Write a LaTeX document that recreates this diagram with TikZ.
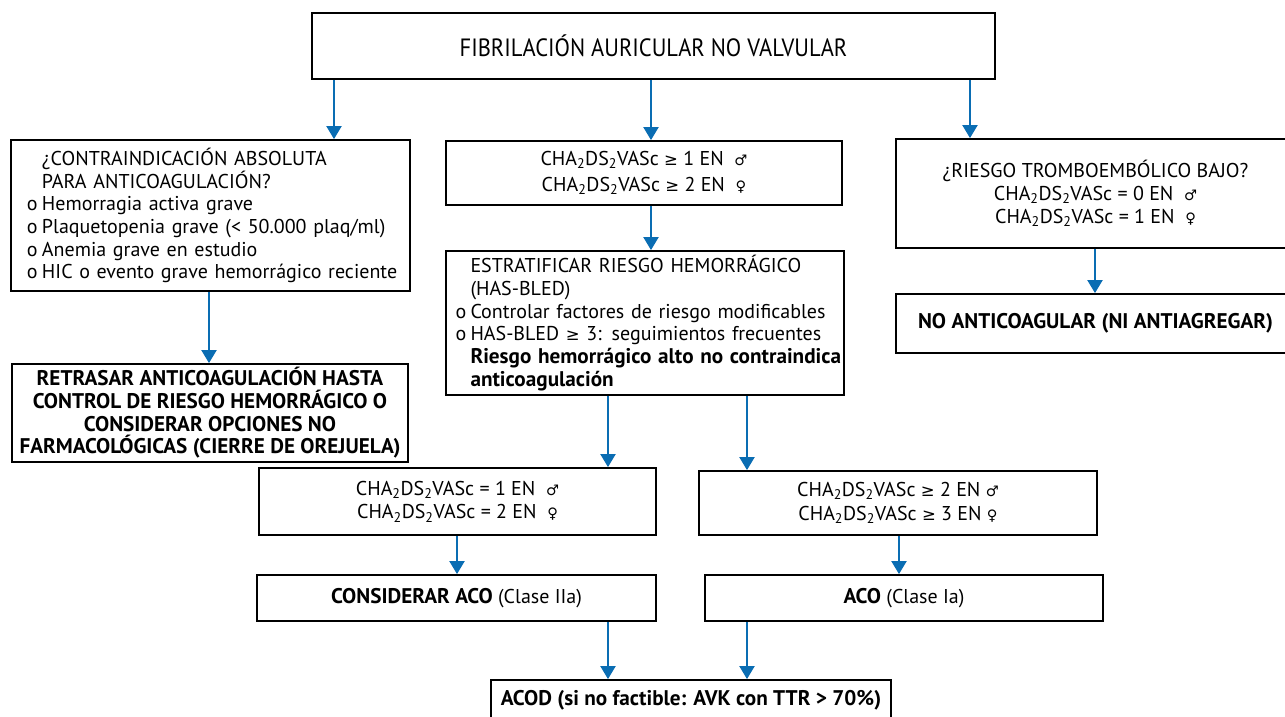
\documentclass[tikz,border=0pt]{standalone}
\usepackage{fontspec}
\setmainfont{PT Sans}
\newfontfamily\dejavu{DejaVu Sans}
\newfontfamily\condf[FakeStretch=0.9]{PT Sans}
\usetikzlibrary{arrows.meta}
\definecolor{arrblue}{HTML}{0A6DB3}
\newcommand\chads{CHA\textsubscript{2}DS\textsubscript{2}VASc}
\newcommand\mygeq{{\dejavu\fontsize{16.5}{16}\selectfont ≥}}
\newcommand\mmale{{\dejavu\fontsize{14.5}{14}\selectfont ♂}}
\newcommand\ffemale{{\dejavu\fontsize{14.5}{14}\selectfont ♀}}
\newcommand\bul[1]{\mbox{\makebox[15pt][l]{o}#1}}
\newcommand\ind[1]{\mbox{\hspace*{15pt}#1}}
\newcommand\bt[1]{{\fontsize{21.2}{22.7}\selectfont\bfseries #1}}
\begin{document}
\begin{tikzpicture}[x=1pt,y=-1pt,
  box/.style={draw=black, line width=1.8pt, rectangle, inner sep=0pt,
    font=\fontsize{20}{22.7}\selectfont},
  arr/.style={draw=arrblue, line width=2pt, -{Triangle[width=15pt,length=13pt]}}]
\clip (0,0) rectangle (1285,717);
\fill[white] (0,0) rectangle (1285,717);

% nodes
\node[box, minimum width=683pt, minimum height=66pt] (top) at (653.5,46)
  {{\condf\fontsize{25}{26}\selectfont FIBRILACIÓN AURICULAR NO VALVULAR}};

\node[box, minimum width=399pt, minimum height=151pt, align=left, text width=367pt] (cont) at (210.5,215.5)
  {\ind{¿CONTRAINDICACIÓN ABSOLUTA}\\
   \ind{PARA ANTICOAGULACIÓN?}\\
   \bul{Hemorragia activa grave}\\
   \bul{Plaquetopenia grave (< 50.000 plaq/ml)}\\
   \bul{Anemia grave en estudio}\\
   \bul{HIC o evento grave hemorrágico reciente}};

\node[box, minimum width=396pt, minimum height=64pt, align=center] (cha1) at (644,173)
  {\raisebox{-3pt}{\chads\ \mygeq\ 1 EN \ \mmale}\\[3pt]
   \raisebox{-3pt}{\chads\ \mygeq\ 2 EN \ \ffemale}};

\node[box, minimum width=398pt, minimum height=144pt, align=left, text width=379pt] (hb) at (645,323)
  {\ind{ESTRATIFICAR RIESGO HEMORRÁGICO}\\
   \ind{(HAS-BLED)}\\
   \bul{Controlar factores de riesgo modificables}\\
   \bul{HAS-BLED \mygeq\ 3: seguimientos frecuentes}\\
   \ind{\bt{Riesgo hemorrágico alto no contraindica}}\\
   \ind{\bt{anticoagulación}}};

\node[box, minimum width=399pt, minimum height=109pt, align=center] (rb1) at (1095.5,193.5)
  {¿RIESGO TROMBOEMBÓLICO BAJO?\\
   \chads\ = 0 EN \ \mmale\\
   \chads\ = 1 EN \ \ffemale};

\node[box, minimum width=399pt, minimum height=59pt] (rb2) at (1095.5,323.5)
  {\bt{NO ANTICOAGULAR (NI ANTIAGREGAR)}};

\node[box, minimum width=396pt, minimum height=98pt, align=center] (retr) at (210,413)
  {\bt{RETRASAR ANTICOAGULACIÓN HASTA}\\
   \bt{CONTROL DE RIESGO HEMORRÁGICO O}\\
   \bt{CONSIDERAR OPCIONES NO}\\
   \bt{FARMACOLÓGICAS (CIERRE DE OREJUELA)}};

\node[box, minimum width=397pt, minimum height=67pt, align=center] (eq1) at (457.5,501.5)
  {\raisebox{-2pt}{\chads\ = 1 EN \ \mmale}\\[1pt]
   \raisebox{-2pt}{\chads\ = 2 EN \ \ffemale}};

\node[box, minimum width=398pt, minimum height=64pt, align=center] (ge2) at (898,503)
  {\chads\ \mygeq\ 2 EN \mmale\\[1pt]
   \chads\ \mygeq\ 3 EN \ffemale};

\node[box, minimum width=399pt, minimum height=46pt] (cons) at (456.5,598)
  {\bt{CONSIDERAR ACO} (Clase IIa)};

\node[box, minimum width=398pt, minimum height=46pt] (aco) at (904,598)
  {\bt{ACO} (Clase Ia)};

\node[box, minimum width=400pt, minimum height=40pt] (acod) at (691,700)
  {\bt{ACOD (si no factible: AVK con TTR > 70\%)}};

% connectors
\draw[arr] (334,0 |- top.south) -- (334,0 |- cont.north);
\draw[arr] (651,0 |- top.south) -- (651,0 |- cha1.north);
\draw[arr] (970,0 |- top.south) -- (970,0 |- rb1.north);
\draw[arr] (651,0 |- cha1.south) -- (651,0 |- hb.north);
\draw[arr] (1095,0 |- rb1.south) -- (1095,0 |- rb2.north);
\draw[arr] (209,0 |- cont.south) -- (209,0 |- retr.north);
\draw[arr] (608,0 |- hb.south) -- (608,0 |- eq1.north);
\draw[arr] (747,0 |- hb.south) -- (747,0 |- ge2.north);
\draw[arr] (457,0 |- eq1.south) -- (457,0 |- cons.north);
\draw[arr] (899,0 |- ge2.south) -- (899,0 |- aco.north);
\draw[arr] (608,0 |- cons.south) -- (608,0 |- acod.north);
\draw[arr] (747,0 |- aco.south) -- (747,0 |- acod.north);
\end{tikzpicture}
\end{document}
